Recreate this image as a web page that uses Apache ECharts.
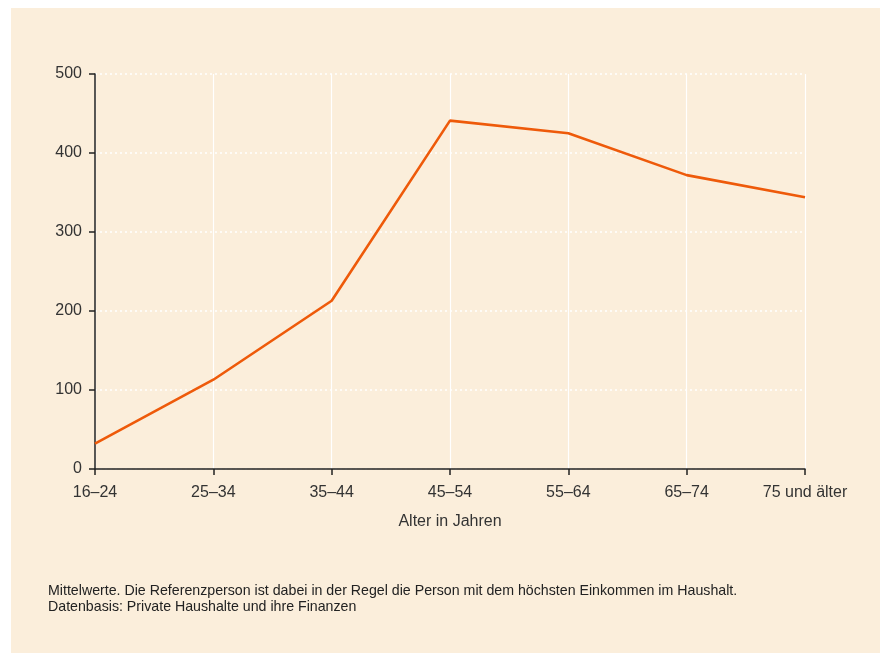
<!DOCTYPE html>
<html><head><meta charset="utf-8">
<script src="https://cdn.jsdelivr.net/npm/echarts@6/dist/echarts.min.js"></script>
<style>html,body{margin:0;padding:0;background:#fff}#c{width:880px;height:653px}</style>
</head><body><div id="c"></div>
<script>
const categories = ['16–24','25–34','35–44','45–54','55–64','65–74','75 und älter'];
const values = [32, 113, 213, 441, 425, 372, 344];
const yTicks = {min: 0, max: 500, interval: 100};
const xAxisName = 'Alter in Jahren';
const footnotes = ['Mittelwerte. Die Referenzperson ist dabei in der Regel die Person mit dem höchsten Einkommen im Haushalt.','Datenbasis: Private Haushalte und ihre Finanzen'];

const font = '"Liberation Sans", Arial, sans-serif';
const chart = echarts.init(document.getElementById('c'));
chart.setOption({
  animation: false,
  backgroundColor: '#ffffff',
  graphic: [
    {type:'rect', z:-10, shape:{x:11,y:8,width:869,height:645}, style:{fill:'#fbeedb'}},
    {type:'text', left:48, top:583, style:{text:footnotes.join('\n'), fill:'#222', font:'14.2px '+font, lineHeight:16}}
  ],
  grid: {left:95, right:75, top:74, bottom:184, containLabel:false},
  xAxis: {
    type:'category', data:categories, boundaryGap:false,
    name:xAxisName, nameLocation:'middle', nameGap:45,
    nameTextStyle:{color:'#333', fontSize:16, fontFamily:font},
    axisLine:{lineStyle:{color:'#222', width:1.5}},
    axisTick:{show:true, length:6, lineStyle:{color:'#222', width:1.5}},
    axisLabel:{color:'#333', fontSize:16, fontFamily:font, margin:16},
    splitLine:{show:true, lineStyle:{color:'#ffffff', width:1.2, type:'solid'}}
  },
  yAxis: {
    type:'value', min:yTicks.min, max:yTicks.max, interval:yTicks.interval,
    axisLine:{show:true, lineStyle:{color:'#222', width:1.5}},
    axisTick:{show:true, length:6, lineStyle:{color:'#222', width:1.5}},
    axisLabel:{color:'#333', fontSize:16, fontFamily:font, margin:13},
    splitLine:{show:true, lineStyle:{color:'#ffffff', width:1.5, type:[2,3]}}
  },
  series: [{
    type:'line', data:values, symbol:'none',
    lineStyle:{color:'#ee5a0a', width:2.6}
  }]
});
</script></body></html>
